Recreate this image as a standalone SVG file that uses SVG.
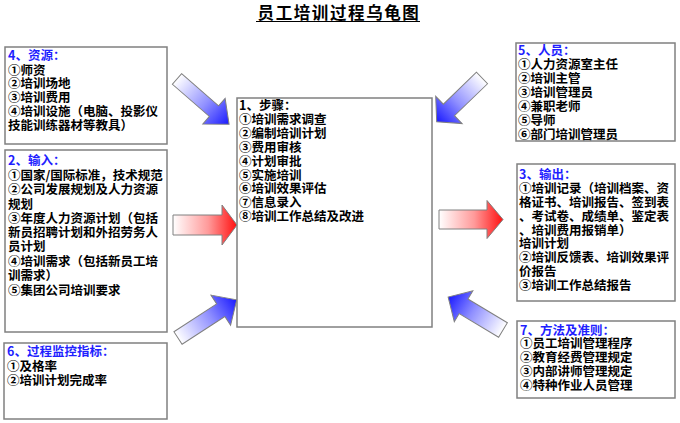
<svg xmlns="http://www.w3.org/2000/svg" width="680" height="423" viewBox="0 0 680 423">
<style>
.box{fill:#ffffff;stroke:#808080;stroke-width:1.5}
.t{font-family:"Noto Sans CJK SC","Liberation Sans",sans-serif;font-size:12.5px;font-weight:700;fill:#000000}
.h{fill:#1f1fff}
.title{font-family:"Noto Sans CJK SC","Liberation Serif",serif;font-size:16.5px;font-weight:700;fill:#000000;letter-spacing:1.6px}
.ab{fill:url(#gb);stroke:#808080;stroke-width:1}
.ar{fill:url(#gr);stroke:#808080;stroke-width:1}
</style>
<defs>
<linearGradient id="gb" x1="0" y1="0" x2="1" y2="0">
<stop offset="0" stop-color="#ffffff"/>
<stop offset="0.55" stop-color="#9090ff"/>
<stop offset="1" stop-color="#1a1aff"/>
</linearGradient>
<linearGradient id="gr" x1="0" y1="0" x2="1" y2="0">
<stop offset="0" stop-color="#ffffff"/>
<stop offset="0.55" stop-color="#ff9a9a"/>
<stop offset="1" stop-color="#ff1010"/>
</linearGradient>
</defs>
<rect width="680" height="423" fill="#ffffff"/>
<g id="title">
<text class="title" x="339" y="19" text-anchor="middle">员工培训过程乌龟图</text>
<line x1="256" y1="21.5" x2="420" y2="21.5" stroke="#000000" stroke-width="1"/>
</g>
<g id="connectors">
<path class="ab" transform="translate(177,79) rotate(41)" d="M0,-7 L49,-7 L49,-17 L69,0 L49,17 L49,7 L0,7 Z"/>
<path class="ab" transform="translate(482,78) rotate(136)" d="M0,-8 L46,-8 L46,-19 L63,0 L46,19 L46,8 L0,8 Z"/>
<path class="ab" transform="translate(178,338) rotate(-33)" d="M0,-7.5 L51,-7.5 L51,-18 L70,0 L51,18 L51,7.5 L0,7.5 Z"/>
<path class="ab" transform="translate(503,330) rotate(211)" d="M0,-8.5 L46,-8.5 L46,-18 L64,0 L46,18 L46,8.5 L0,8.5 Z"/>
<path class="ar" d="M173,215 L222,215 L222,205 L237,225 L222,245 L222,235 L173,235 Z"/>
<path class="ar" d="M439,210 L487,210 L487,200.5 L503,219.5 L487,238.5 L487,229 L439,229 Z"/>
</g>
<g id="node4">
<rect class="box" x="5" y="47" width="162" height="97"/>
<text class="t"><tspan class="h" x="8" y="60">4、资源：</tspan><tspan x="8" y="74.5">①师资</tspan><tspan x="8" y="88">②培训场地</tspan><tspan x="8" y="102">③培训费用</tspan><tspan x="8" y="116">④培训设施（电脑、投影仪</tspan><tspan x="8" y="130">技能训练器材等教具）</tspan></text>
</g>
<g id="node2">
<rect class="box" x="5" y="150" width="162" height="182"/>
<text class="t"><tspan class="h" x="8" y="165">2、输入：</tspan><tspan x="8" y="179.5">①国家/国际标准，技术规范</tspan><tspan x="8" y="194">②公司发展规划及人力资源</tspan><tspan x="8" y="208.5">规划</tspan><tspan x="8" y="223">③年度人力资源计划（包括</tspan><tspan x="8" y="237">新员招聘计划和外招劳务人</tspan><tspan x="8" y="251">员计划</tspan><tspan x="8" y="266">④培训需求（包括新员工培</tspan><tspan x="8" y="280">训需求）</tspan><tspan x="8" y="294.5">⑤集团公司培训要求</tspan></text>
</g>
<g id="node6">
<rect class="box" x="4" y="343" width="163" height="76"/>
<text class="t"><tspan class="h" x="7" y="355.5">6、过程监控指标：</tspan><tspan x="7" y="370.5">①及格率</tspan><tspan x="7" y="384.5">②培训计划完成率</tspan></text>
</g>
<g id="node1">
<rect class="box" x="237" y="98" width="195" height="229"/>
<text class="t"><tspan x="239" y="109.5">1、步骤：</tspan><tspan x="239" y="124">①培训需求调查</tspan><tspan x="239" y="138">②编制培训计划</tspan><tspan x="239" y="152">③费用审核</tspan><tspan x="239" y="165.5">④计划审批</tspan><tspan x="239" y="179.5">⑤实施培训</tspan><tspan x="239" y="193">⑥培训效果评估</tspan><tspan x="239" y="207">⑦信息录入</tspan><tspan x="239" y="221">⑧培训工作总结及改进</tspan></text>
</g>
<g id="node5">
<rect class="box" x="516" y="43" width="159" height="98"/>
<text class="t"><tspan class="h" x="518" y="54.5">5、人员：</tspan><tspan x="518" y="69">①人力资源室主任</tspan><tspan x="518" y="83">②培训主管</tspan><tspan x="518" y="97">③培训管理员</tspan><tspan x="518" y="111">④兼职老师</tspan><tspan x="518" y="125">⑤导师</tspan><tspan x="518" y="138.5">⑥部门培训管理员</tspan></text>
</g>
<g id="node3">
<rect class="box" x="517" y="164" width="158" height="137"/>
<text class="t"><tspan class="h" x="519" y="179">3、输出：</tspan><tspan x="519" y="193">①培训记录（培训档案、资</tspan><tspan x="519" y="207">格证书、培训报告、签到表</tspan><tspan x="519" y="221">、考试卷、成绩单、鉴定表</tspan><tspan x="519" y="234.5">、培训费用报销单）</tspan><tspan x="519" y="248">培训计划</tspan><tspan x="519" y="262">②培训反馈表、培训效果评</tspan><tspan x="519" y="275.5">价报告</tspan><tspan x="519" y="289.5">③培训工作总结报告</tspan></text>
</g>
<g id="node7">
<rect class="box" x="517" y="321" width="158" height="77"/>
<text class="t"><tspan class="h" x="520" y="334.5">7、方法及准则：</tspan><tspan x="520" y="348">①员工培训管理程序</tspan><tspan x="520" y="362">②教育经费管理规定</tspan><tspan x="520" y="375.5">③内部讲师管理规定</tspan><tspan x="520" y="389.5">④特种作业人员管理</tspan></text>
</g>
</svg>
